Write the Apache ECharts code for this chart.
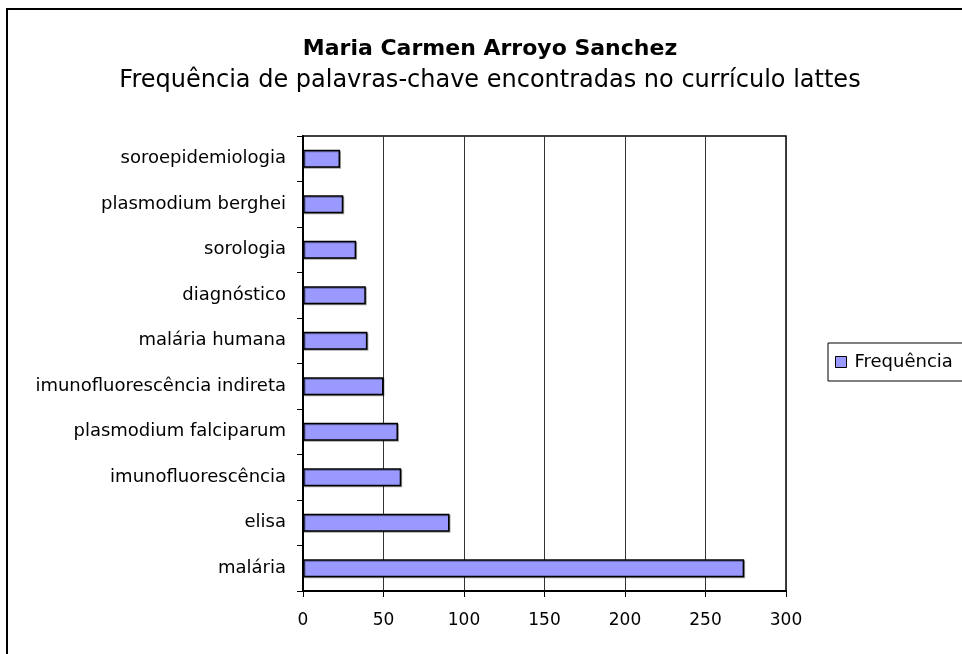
<!DOCTYPE html>
<html lang="pt">
<head>
    <meta charset="utf-8"/>
    <title>Frequência de palavras-chave</title>
    <script src="https://cdn.jsdelivr.net/npm/echarts@6/dist/echarts.min.js"></script>
    <style>
        html, body { margin: 0; padding: 0; background: #fff; }
        #chart { width: 962px; height: 654px; }
    </style>
</head>
<body>
<div id="chart"></div>
<script type="text/javascript">
    // bottom to top, as in the reference
    var categories = ['malária', 'elisa', 'imunofluorescência', 'plasmodium falciparum',
        'imunofluorescência indireta', 'malária humana', 'diagnóstico', 'sorologia',
        'plasmodium berghei', 'soroepidemiologia'];
    var frequencia = [274, 91, 61, 59, 50, 40, 39, 33, 25, 23];
    var xTicks = [0, 50, 100, 150, 200, 250, 300];

    var font = 'DejaVu Sans, Verdana, sans-serif';
    var myChart = echarts.init(document.getElementById('chart'));

    var option = {
        animation: false,
        backgroundColor: '#fff',
        graphic: [{
            type: 'rect',
            shape: { x: 7, y: 9, width: 1000, height: 1000 },
            style: { fill: 'none', stroke: '#000', lineWidth: 2 }
        }],
        title: {
            text: 'Maria Carmen Arroyo Sanchez',
            subtext: 'Frequência de palavras-chave encontradas no currículo lattes',
            left: 485,
            textAlign: 'center',
            top: 33,
            itemGap: 9,
            textStyle: { fontFamily: font, fontSize: 22, fontWeight: 'bold', color: '#000' },
            subtextStyle: { fontFamily: font, fontSize: 24, color: '#000' }
        },
        legend: {
            data: ['Frequência'],
            left: 828,
            top: 343,
            orient: 'vertical',
            icon: 'rect',
            itemWidth: 11,
            itemHeight: 11,
            itemGap: 0,
            padding: [10, 40, 10, 7],
            borderColor: '#000',
            borderWidth: 1,
            textStyle: { fontFamily: font, fontSize: 18, color: '#000', padding: [0, 0, 0, 3] },
            itemStyle: { borderColor: '#000', borderWidth: 1 }
        },
        grid: {
            left: 303,
            top: 136,
            right: 176,
            bottom: 63,
            show: true,
            borderColor: '#000',
            borderWidth: 1.5
        },
        xAxis: {
            type: 'value',
            min: xTicks[0],
            max: xTicks[xTicks.length - 1],
            interval: xTicks[1] - xTicks[0],
            axisLine: { show: true, lineStyle: { color: '#000', width: 2 } },
            axisTick: { show: true, length: 6, lineStyle: { color: '#000' } },
            splitLine: { show: true, lineStyle: { color: '#333', width: 1 } },
            axisLabel: { fontFamily: font, fontSize: 17, color: '#000', margin: 21 }
        },
        yAxis: {
            type: 'category',
            data: categories,
            axisLine: { show: true, lineStyle: { color: '#000', width: 2 } },
            axisTick: { show: true, length: 6, lineStyle: { color: '#000' } },
            axisLabel: { fontFamily: font, fontSize: 18, color: '#000', margin: 17 }
        },
        series: [{
            name: 'Frequência',
            type: 'bar',
            data: frequencia,
            barWidth: 18,
            itemStyle: {
                color: '#9999FF',
                borderColor: '#000',
                borderWidth: 1.5,
                shadowColor: 'rgba(0,0,0,0.35)',
                shadowOffsetX: 1,
                shadowOffsetY: 1
            }
        }]
    };

    myChart.setOption(option, true);
</script>
</body>
</html>
